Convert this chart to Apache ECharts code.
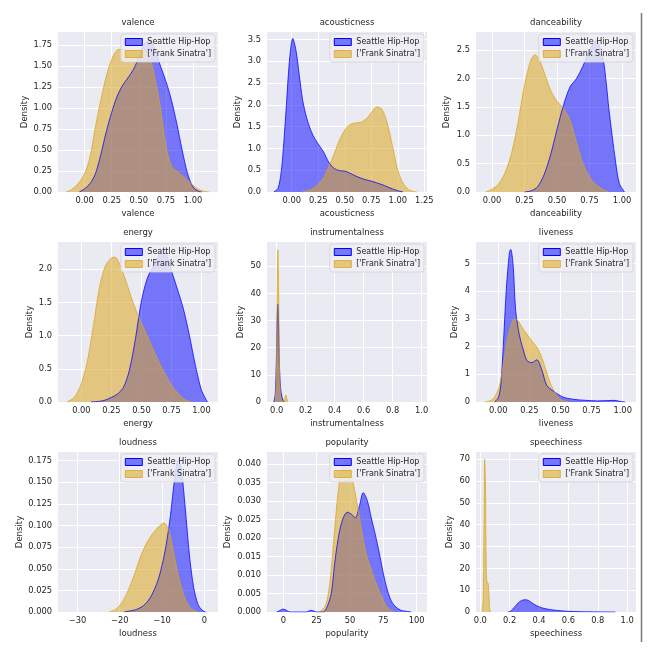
<!DOCTYPE html>
<html>
<head>
<meta charset="utf-8">
<script src="https://cdn.jsdelivr.net/npm/echarts@6/dist/echarts.min.js"></script>
<style>html,body{margin:0;padding:0;background:#fff}#c{width:655px;height:655px}</style>
</head>
<body>
<div id="c"></div>
<script>
// ---- data (KDE curves, [x, density]) ----
const seriesNames = ['Seattle Hip-Hop', "['Frank Sinatra']"];
const featureNames = ['valence','acousticness','danceability','energy','instrumentalness','liveness','loudness','popularity','speechiness'];

const valenceHipHop = [[-0.05,0],[0,0.04],[0.05,0.1],[0.1,0.22],[0.15,0.45],[0.2,0.72],[0.25,0.95],[0.3,1.14],[0.35,1.27],[0.4,1.36],[0.45,1.46],[0.5,1.6],[0.55,1.76],[0.6,1.81],[0.65,1.7],[0.7,1.5],[0.75,1.32],[0.8,1.1],[0.85,0.82],[0.9,0.5],[0.95,0.22],[1.0,0.06],[1.05,0.01],[1.08,0]];
const valenceSinatra = [[-0.17,0],[-0.12,0.03],[-0.06,0.1],[0,0.22],[0.05,0.42],[0.1,0.78],[0.15,1.1],[0.2,1.38],[0.25,1.58],[0.3,1.69],[0.35,1.7],[0.4,1.69],[0.45,1.68],[0.5,1.69],[0.55,1.69],[0.6,1.6],[0.65,1.35],[0.7,1.0],[0.75,0.55],[0.8,0.31],[0.85,0.25],[0.9,0.2],[0.95,0.14],[1.0,0.08],[1.05,0.03],[1.1,0.01],[1.15,0]];

const acousticnessHipHop = [[-0.17,0],[-0.13,0.08],[-0.1,0.45],[-0.08,0.96],[-0.05,2.0],[-0.02,3.05],[0.01,3.52],[0.04,3.25],[0.07,2.7],[0.1,2.15],[0.13,1.8],[0.16,1.55],[0.2,1.3],[0.25,1.1],[0.3,0.92],[0.35,0.68],[0.4,0.54],[0.45,0.49],[0.5,0.48],[0.55,0.43],[0.6,0.37],[0.65,0.32],[0.7,0.28],[0.75,0.25],[0.8,0.21],[0.85,0.17],[0.9,0.12],[0.95,0.07],[1.0,0.03],[1.05,0]];
const acousticnessSinatra = [[0.1,0],[0.15,0.03],[0.2,0.08],[0.25,0.18],[0.3,0.33],[0.35,0.58],[0.4,0.88],[0.45,1.19],[0.5,1.42],[0.55,1.55],[0.6,1.58],[0.65,1.6],[0.7,1.67],[0.75,1.82],[0.8,1.95],[0.85,1.9],[0.9,1.58],[0.95,1.05],[1.0,0.5],[1.05,0.2],[1.1,0.06],[1.15,0.01],[1.18,0]];

const danceabilityHipHop = [[0.25,0],[0.3,0.02],[0.35,0.09],[0.4,0.3],[0.45,0.65],[0.5,1.1],[0.55,1.53],[0.6,1.85],[0.65,2.0],[0.7,2.22],[0.75,2.5],[0.8,2.67],[0.85,2.4],[0.88,1.9],[0.9,1.45],[0.95,0.55],[0.98,0.15],[1.02,0]];
const danceabilitySinatra = [[-0.05,0],[0,0.05],[0.05,0.14],[0.1,0.34],[0.15,0.68],[0.2,1.22],[0.25,1.88],[0.3,2.33],[0.33,2.42],[0.36,2.35],[0.4,2.12],[0.45,1.8],[0.5,1.6],[0.55,1.47],[0.6,1.27],[0.65,0.87],[0.7,0.5],[0.75,0.27],[0.8,0.13],[0.85,0.05],[0.9,0]];

const energyHipHop = [[0.08,0],[0.15,0.01],[0.2,0.03],[0.25,0.07],[0.3,0.12],[0.35,0.22],[0.4,0.48],[0.45,0.95],[0.5,1.52],[0.55,1.87],[0.6,2.05],[0.65,2.22],[0.68,2.3],[0.71,2.22],[0.75,1.98],[0.8,1.7],[0.85,1.4],[0.9,1.0],[0.95,0.55],[1.0,0.18],[1.05,0]];
const energySinatra = [[-0.12,0],[-0.06,0.07],[0,0.28],[0.05,0.62],[0.1,1.15],[0.15,1.72],[0.2,2.05],[0.25,2.17],[0.28,2.18],[0.32,2.07],[0.375,1.8],[0.43,1.5],[0.49,1.23],[0.54,1.03],[0.6,0.78],[0.68,0.48],[0.76,0.23],[0.85,0.05],[0.92,0]];

const instrumentalnessHipHop = [[-0.02,0],[-0.01,3],[-0.003,14],[0.003,31],[0.008,36],[0.013,28],[0.019,13],[0.027,5],[0.036,2],[0.045,0.6],[0.054,0]];
const instrumentalnessSinatra = [[-0.01,0],[-0.003,8],[0.002,34],[0.008,56],[0.013,42],[0.018,16],[0.024,4],[0.031,0.8],[0.045,0.2],[0.056,1.2],[0.063,2.6],[0.07,1.2],[0.078,0]];

const livenessHipHop = [[-0.03,0],[0,0.15],[0.02,0.6],[0.04,2.0],[0.065,4.1],[0.09,5.4],[0.1,5.5],[0.12,4.9],[0.14,3.3],[0.17,2.4],[0.2,1.9],[0.23,1.5],[0.27,1.42],[0.31,1.52],[0.35,1.15],[0.39,0.6],[0.44,0.4],[0.52,0.18],[0.6,0.1],[0.7,0.06],[0.8,0.04],[0.88,0.05],[0.93,0.06],[0.98,0.02],[1.02,0]];
const livenessSinatra = [[-0.11,0],[-0.05,0.08],[0,0.45],[0.03,1.05],[0.06,1.9],[0.09,2.55],[0.13,3.0],[0.16,2.92],[0.19,2.7],[0.23,2.45],[0.27,2.2],[0.31,1.98],[0.35,1.6],[0.38,1.2],[0.42,0.66],[0.47,0.24],[0.51,0.07],[0.56,0]];

const loudnessHipHop = [[-19,0],[-16,0.003],[-14,0.009],[-12.5,0.019],[-11,0.036],[-10,0.054],[-9,0.078],[-8,0.112],[-7,0.155],[-6.2,0.176],[-5.5,0.168],[-4.5,0.12],[-3.5,0.065],[-2.5,0.028],[-1.5,0.009],[-0.5,0.002],[0.3,0]];
const loudnessSinatra = [[-22.5,0],[-21,0.003],[-19.5,0.011],[-18,0.025],[-16.5,0.044],[-15,0.065],[-13.5,0.081],[-12,0.092],[-10.5,0.1],[-9.5,0.103],[-8.5,0.096],[-7.5,0.075],[-6.5,0.05],[-5.5,0.03],[-4.5,0.015],[-3.5,0.006],[-2.5,0.002],[-1.5,0]];

const popularityHipHop = [[-5,0],[-2.5,0.0004],[0,0.0008],[2.5,0.0004],[5,0],[17,0],[21,0.00045],[25,0],[30,0],[33,0.0015],[36,0.005],[39,0.0145],[42,0.0215],[45,0.0255],[48,0.027],[51,0.0265],[54,0.0255],[57,0.0285],[60,0.0323],[63,0.0302],[66,0.0255],[69,0.021],[72,0.016],[75,0.0105],[78,0.006],[81,0.003],[84,0.0015],[88,0.0005],[92,0.0002],[96,0]];
const popularitySinatra = [[26,0],[29,0.0005],[32,0.002],[35,0.008],[38,0.02],[41,0.032],[44,0.039],[47,0.0412],[50,0.039],[53,0.034],[56,0.028],[59,0.0215],[62,0.016],[65,0.0125],[68,0.0093],[71,0.0065],[74,0.004],[77,0.0018],[80,0.0006],[83,0]];

const speechinessHipHop = [[0.19,0],[0.21,0.6],[0.23,2.0],[0.25,3.6],[0.27,4.8],[0.29,5.5],[0.31,5.6],[0.33,5.2],[0.35,4.3],[0.38,3.0],[0.42,1.9],[0.46,1.3],[0.5,0.9],[0.55,0.55],[0.6,0.3],[0.68,0.12],[0.8,0.04],[0.92,0]];
const speechinessSinatra = [[0.014,0],[0.02,6],[0.025,35],[0.03,70],[0.035,60],[0.039,30],[0.043,15],[0.048,13.5],[0.054,13],[0.059,8],[0.064,1.5],[0.07,0]];

// tick labels
const ticksUnit4 = [0, 0.25, 0.5, 0.75, 1.0];
const ticksUnit5 = [0, 0.25, 0.5, 0.75, 1.0, 1.25];
const ticksTenth = [0, 0.2, 0.4, 0.6, 0.8, 1.0];
const loudnessXTicks = [-30, -20, -10, 0];
const popularityXTicks = [0, 25, 50, 75, 100];
const valenceYTicks = [0, 0.25, 0.5, 0.75, 1.0, 1.25, 1.5, 1.75];
const acousticnessYTicks = [0, 0.5, 1.0, 1.5, 2.0, 2.5, 3.0, 3.5];
const danceabilityYTicks = [0, 0.5, 1.0, 1.5, 2.0, 2.5];
const energyYTicks = [0, 0.5, 1.0, 1.5, 2.0];
const instrumentalnessYTicks = [0, 10, 20, 30, 40, 50];
const livenessYTicks = [0, 1, 2, 3, 4, 5];
const loudnessYTicks = [0, 0.025, 0.05, 0.075, 0.1, 0.125, 0.15, 0.175];
const popularityYTicks = [0, 0.005, 0.01, 0.015, 0.02, 0.025, 0.03, 0.035, 0.04];
const speechinessYTicks = [0, 10, 20, 30, 40, 50, 60, 70];

// ---- layout / styling ----
const FONT = 'DejaVu Sans';
const TEXT = '#262626';
const BLUE = '#0000ff', GOLD = '#DAA520';
const fx = n => v => Number(v).toFixed(n);
const minusFmt = v => (v < 0 ? '\u2212' + Math.abs(v) : String(v));

const panels = [
  {hip: valenceHipHop, sin: valenceSinatra, x: [-0.246, 1.231], yMax: 1.906, xt: ticksUnit4, yt: valenceYTicks, xf: fx(2), yf: fx(2), ng: 29},
  {hip: acousticnessHipHop, sin: acousticnessSinatra, x: [-0.233, 1.275], yMax: 3.67, xt: ticksUnit5, yt: acousticnessYTicks, xf: fx(2), yf: fx(1), ng: 25},
  {hip: danceabilityHipHop, sin: danceabilitySinatra, x: [-0.123, 1.108], yMax: 2.82, xt: ticksUnit4, yt: danceabilityYTicks, xf: fx(2), yf: fx(1), ng: 25},
  {hip: energyHipHop, sin: energySinatra, x: [-0.195, 1.138], yMax: 2.41, xt: ticksUnit4, yt: energyYTicks, xf: fx(2), yf: fx(1), ng: 24},
  {hip: instrumentalnessHipHop, sin: instrumentalnessSinatra, x: [-0.067, 1.037], yMax: 58.9, xt: ticksTenth, yt: instrumentalnessYTicks, xf: fx(1), yf: fx(0), ng: 22},
  {hip: livenessHipHop, sin: livenessSinatra, x: [-0.179, 1.107], yMax: 5.77, xt: ticksUnit4, yt: livenessYTicks, xf: fx(2), yf: fx(0), ng: 17},
  {hip: loudnessHipHop, sin: loudnessSinatra, x: [-34.6, 3.24], yMax: 0.185, xt: loudnessXTicks, yt: loudnessYTicks, xf: minusFmt, yf: fx(3), ng: 33},
  {hip: popularityHipHop, sin: popularitySinatra, x: [-12.2, 107.8], yMax: 0.0433, xt: popularityXTicks, yt: popularityYTicks, xf: fx(0), yf: fx(3), ng: 35},
  {hip: speechinessHipHop, sin: speechinessSinatra, x: [-0.029, 1.06], yMax: 73.3, xt: ticksTenth, yt: speechinessYTicks, xf: fx(1), yf: fx(0), ng: 22}
];

const colLeft = [58, 267, 476];
const rowTop = [32, 242, 452];
const W = 160, H = 160;

const grid = [], xAxis = [], yAxis = [], series = [], title = [], legend = [];
panels.forEach((p, i) => {
  const r = Math.floor(i / 3), c = i % 3;
  const left = colLeft[c], top = rowTop[r];
  grid.push({left: left, top: top, width: W, height: H, show: true, backgroundColor: '#EAEAF2', borderWidth: 0, containLabel: false});
  xAxis.push({
    type: 'value', gridIndex: i, min: p.x[0], max: p.x[1],
    name: featureNames[i], nameLocation: 'middle', nameGap: 17,
    nameTextStyle: {fontFamily: FONT, fontSize: 8.5, color: TEXT},
    axisLine: {show: false},
    axisTick: {show: false, customValues: p.xt},
    axisLabel: {customValues: p.xt, formatter: p.xf, margin: 5, fontFamily: FONT, fontSize: 8.3, color: TEXT},
    splitLine: {show: true, lineStyle: {color: '#ffffff', width: 1}}
  });
  yAxis.push({
    type: 'value', gridIndex: i, min: 0, max: p.yMax,
    name: 'Density', nameLocation: 'middle', nameGap: p.ng,
    nameTextStyle: {fontFamily: FONT, fontSize: 8.5, color: TEXT},
    axisLine: {show: false},
    axisTick: {show: false, customValues: p.yt},
    axisLabel: {customValues: p.yt, formatter: p.yf, margin: 6, fontFamily: FONT, fontSize: 8.3, color: TEXT},
    splitLine: {show: true, lineStyle: {color: '#ffffff', width: 1}}
  });
  series.push({
    type: 'line', name: seriesNames[0], xAxisIndex: i, yAxisIndex: i, data: p.hip,
    smooth: 0.3, showSymbol: false, symbol: 'none', silent: true,
    lineStyle: {color: 'rgba(0,0,255,0.75)', width: 1},
    itemStyle: {color: BLUE},
    areaStyle: {color: 'rgba(0,0,255,0.5)', opacity: 1}
  });
  series.push({
    type: 'line', name: seriesNames[1], xAxisIndex: i, yAxisIndex: i, data: p.sin,
    smooth: 0.3, showSymbol: false, symbol: 'none', silent: true,
    lineStyle: {color: 'rgba(218,165,32,0.75)', width: 1},
    itemStyle: {color: GOLD},
    areaStyle: {color: 'rgba(218,165,32,0.55)', opacity: 1}
  });
  title.push({
    text: featureNames[i], left: left + W / 2, top: top - 14, textAlign: 'center', padding: 0,
    textStyle: {fontFamily: FONT, fontSize: 8.5, fontWeight: 'normal', color: TEXT}
  });
  legend.push({
    orient: 'vertical', right: 655 - (left + W - 3), top: top + 2,
    itemWidth: 17, itemHeight: 7, itemGap: 4, padding: [4, 4, 4, 4],
    backgroundColor: 'rgba(238,238,245,0.85)', borderColor: 'rgba(210,210,215,0.8)', borderWidth: 1, borderRadius: 3,
    selectedMode: false, icon: 'rect',
    textStyle: {fontFamily: FONT, fontSize: 8, color: TEXT},
    data: [
      {name: seriesNames[0], itemStyle: {color: 'rgba(0,0,255,0.5)', borderColor: BLUE, borderWidth: 1}},
      {name: seriesNames[1], itemStyle: {color: 'rgba(218,165,32,0.55)', borderColor: 'rgba(218,165,32,0.8)', borderWidth: 1}}
    ]
  });
});

const chart = echarts.init(document.getElementById('c'), null, {renderer: 'canvas'});
chart.setOption({
  animation: false,
  backgroundColor: '#ffffff',
  textStyle: {fontFamily: FONT},
  grid, xAxis, yAxis, series, title, legend,
  graphic: [{type: 'line', shape: {x1: 641.5, y1: 13, x2: 641.5, y2: 642}, style: {stroke: '#7a7a7a', lineWidth: 1.5}, silent: true}]
});
</script>
</body>
</html>
